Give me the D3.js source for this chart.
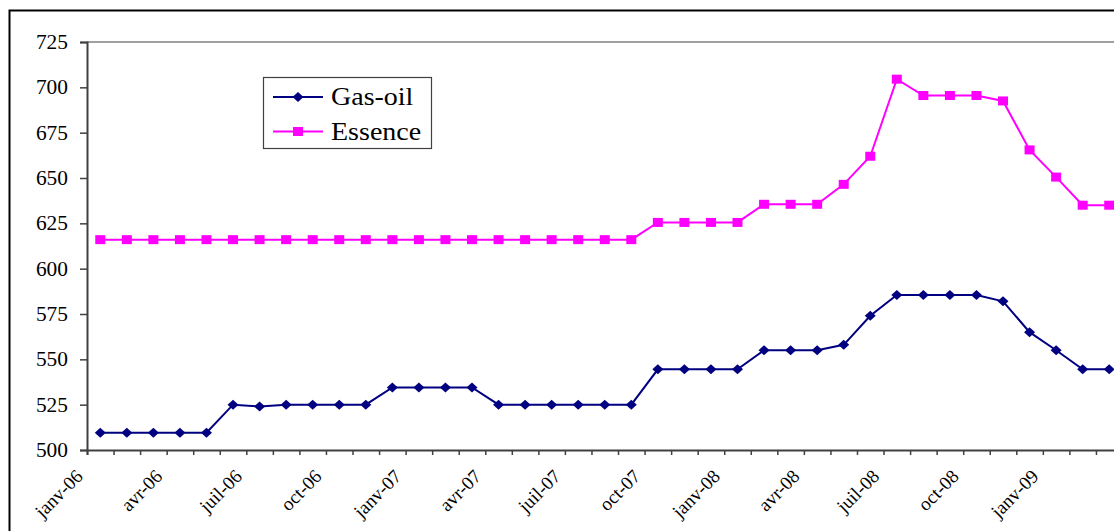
<!DOCTYPE html>
<html>
<head>
<meta charset="utf-8">
<script src="https://cdn.jsdelivr.net/npm/d3@7"></script>
<style>
  html, body { margin: 0; padding: 0; background: #fff; }
  svg { display: block; }
  text { font-family: "Liberation Serif", "Times New Roman", "DejaVu Serif", serif; fill: #000; }
</style>
</head>
<body>
<svg id="chart" width="1114" height="531"></svg>
<script>
// Monthly fuel prices, janv-06 .. mars-09
const months = ["janv", "févr", "mars", "avr", "mai", "juin", "juil", "août", "sept", "oct", "nov", "déc"];
const categories = [];
for (let yr = 6; yr <= 9; yr++) {
  for (let m = 0; m < 12; m++) {
    if (yr === 9 && m > 2) break;
    categories.push(months[m] + "-0" + yr);
  }
}

const gasoil = [
  509.5, 509.5, 509.5, 509.5, 509.5, 525, 524, 525, 525, 525, 525, 534.5,
  534.5, 534.5, 534.5, 525, 525, 525, 525, 525, 525, 544.5, 544.5, 544.5,
  544.5, 555, 555, 555, 558, 574, 585.5, 585.5, 585.5, 585.5, 582, 565,
  555, 544.5, 544.5
];

const essence = [
  616, 616, 616, 616, 616, 616, 616, 616, 616, 616, 616, 616,
  616, 616, 616, 616, 616, 616, 616, 616, 616, 625.5, 625.5, 625.5,
  625.5, 635.5, 635.5, 635.5, 646.5, 662, 704.5, 695.5, 695.5, 695.5, 692.5, 665.5,
  650.5, 635, 635
];

const yTicks = [500, 525, 550, 575, 600, 625, 650, 675, 700, 725];
const seriesNames = ["Gas-oil", "Essence"];

const serif = "'Liberation Serif', 'Times New Roman', 'DejaVu Serif', serif";
const svg = d3.select("#chart");

// chart frame (runs past the right and bottom edges)
svg.append("rect")
  .attr("x", 9.5).attr("y", 10.5)
  .attr("width", 1200).attr("height", 600)
  .attr("fill", "none").attr("stroke", "#000").attr("stroke-width", 2);

const plotL = 87, plotR = 1122.5, plotT = 42, plotB = 450;

const x = d3.scaleBand().domain(categories).range([plotL, plotR]).padding(0);
const xEdge = d3.scaleLinear().domain([0, categories.length]).range([plotL, plotR]);
const y = d3.scaleLinear().domain([500, 725]).range([plotB, plotT]);
const cx = d => x(d) + x.bandwidth() / 2;

// plot area top border
svg.append("line")
  .attr("x1", plotL).attr("x2", plotR + 10)
  .attr("y1", plotT).attr("y2", plotT)
  .attr("stroke", "#808080").attr("stroke-width", 1.5);

// y axis
const yAxis = svg.append("g")
  .attr("transform", `translate(${plotL},0)`)
  .call(d3.axisLeft(y).tickValues(yTicks).tickSize(7).tickPadding(12).tickFormat(d3.format("d")));
yAxis.attr("font-family", null);
yAxis.select(".domain").attr("stroke", "#404040").attr("stroke-width", 2);
yAxis.selectAll(".tick line").attr("stroke", "#404040").attr("stroke-width", 1.5);
yAxis.selectAll(".tick text")
  .attr("x", 0)
  .attr("transform", "translate(-19,0) scale(1.07,1)")
  .style("font-size", "20px")
  .style("font-family", serif)
  .attr("fill", "#000");

// x axis: tick marks at category boundaries
const xAxis = svg.append("g")
  .attr("transform", `translate(0,${plotB})`)
  .call(d3.axisBottom(xEdge).tickValues(d3.range(categories.length + 1)).tickSize(5).tickFormat(""));
xAxis.select(".domain").attr("stroke", "#404040").attr("stroke-width", 2);
xAxis.selectAll(".tick line").attr("stroke", "#404040").attr("stroke-width", 1.5);

// x labels, every third month, rotated
const labelled = categories.filter((c, i) => i % 3 === 0);
const xLab = svg.append("g")
  .attr("transform", `translate(0,${plotB})`)
  .call(d3.axisBottom(x).tickValues(labelled).tickSize(0).tickFormat(d => d));
xLab.attr("font-family", null);
xLab.select(".domain").remove();
xLab.selectAll(".tick text")
  .attr("x", 0).attr("y", 0).attr("dy", null)
  .attr("text-anchor", "end")
  .attr("dominant-baseline", "central")
  .attr("transform", "translate(-21,23) rotate(-45)")
  .style("font-size", "19px")
  .style("font-family", serif)
  .attr("fill", "#000");

// series
const line = d3.line().x((d, i) => cx(categories[i])).y(d => y(d));
const diamondPath = "M0,-5L5.5,0L0,5L-5.5,0Z";

function drawSeries(values, color, marker) {
  svg.append("path")
    .datum(values)
    .attr("d", line)
    .attr("fill", "none")
    .attr("stroke", color)
    .attr("stroke-width", 2);
  const g = svg.append("g");
  values.forEach((v, i) => {
    const px = cx(categories[i]), py = y(v);
    if (marker === "diamond") {
      g.append("path")
        .attr("d", diamondPath)
        .attr("transform", `translate(${px},${py})`)
        .attr("fill", color);
    } else {
      g.append("rect")
        .attr("x", px - 5).attr("y", py - 4.5)
        .attr("width", 10).attr("height", 9)
        .attr("fill", color);
    }
  });
}

drawSeries(essence, "#FF00FF", "square");
drawSeries(gasoil, "#000080", "diamond");

// legend
const lg = svg.append("g");
lg.append("rect")
  .attr("x", 263.5).attr("y", 77.5)
  .attr("width", 168).attr("height", 71)
  .attr("fill", "#fff").attr("stroke", "#404040").attr("stroke-width", 1.2);

const legendItems = [
  { name: seriesNames[0], color: "#000080", marker: "diamond", yy: 97 },
  { name: seriesNames[1], color: "#FF00FF", marker: "square", yy: 131.5 }
];
legendItems.forEach(it => {
  lg.append("line")
    .attr("x1", 273).attr("x2", 323)
    .attr("y1", it.yy).attr("y2", it.yy)
    .attr("stroke", it.color).attr("stroke-width", 2);
  if (it.marker === "diamond") {
    lg.append("path")
      .attr("d", diamondPath)
      .attr("transform", `translate(298,${it.yy})`)
      .attr("fill", it.color);
  } else {
    lg.append("rect")
      .attr("x", 293).attr("y", it.yy - 4.5)
      .attr("width", 10).attr("height", 9)
      .attr("fill", it.color);
  }
  lg.append("text")
    .attr("x", 0).attr("y", 0)
    .attr("transform", `translate(331,${it.yy}) scale(1.12,1)`)
    .attr("dominant-baseline", "central")
    .style("font-size", "25px")
    .style("font-family", serif)
    .text(it.name);
});
</script>
</body>
</html>
